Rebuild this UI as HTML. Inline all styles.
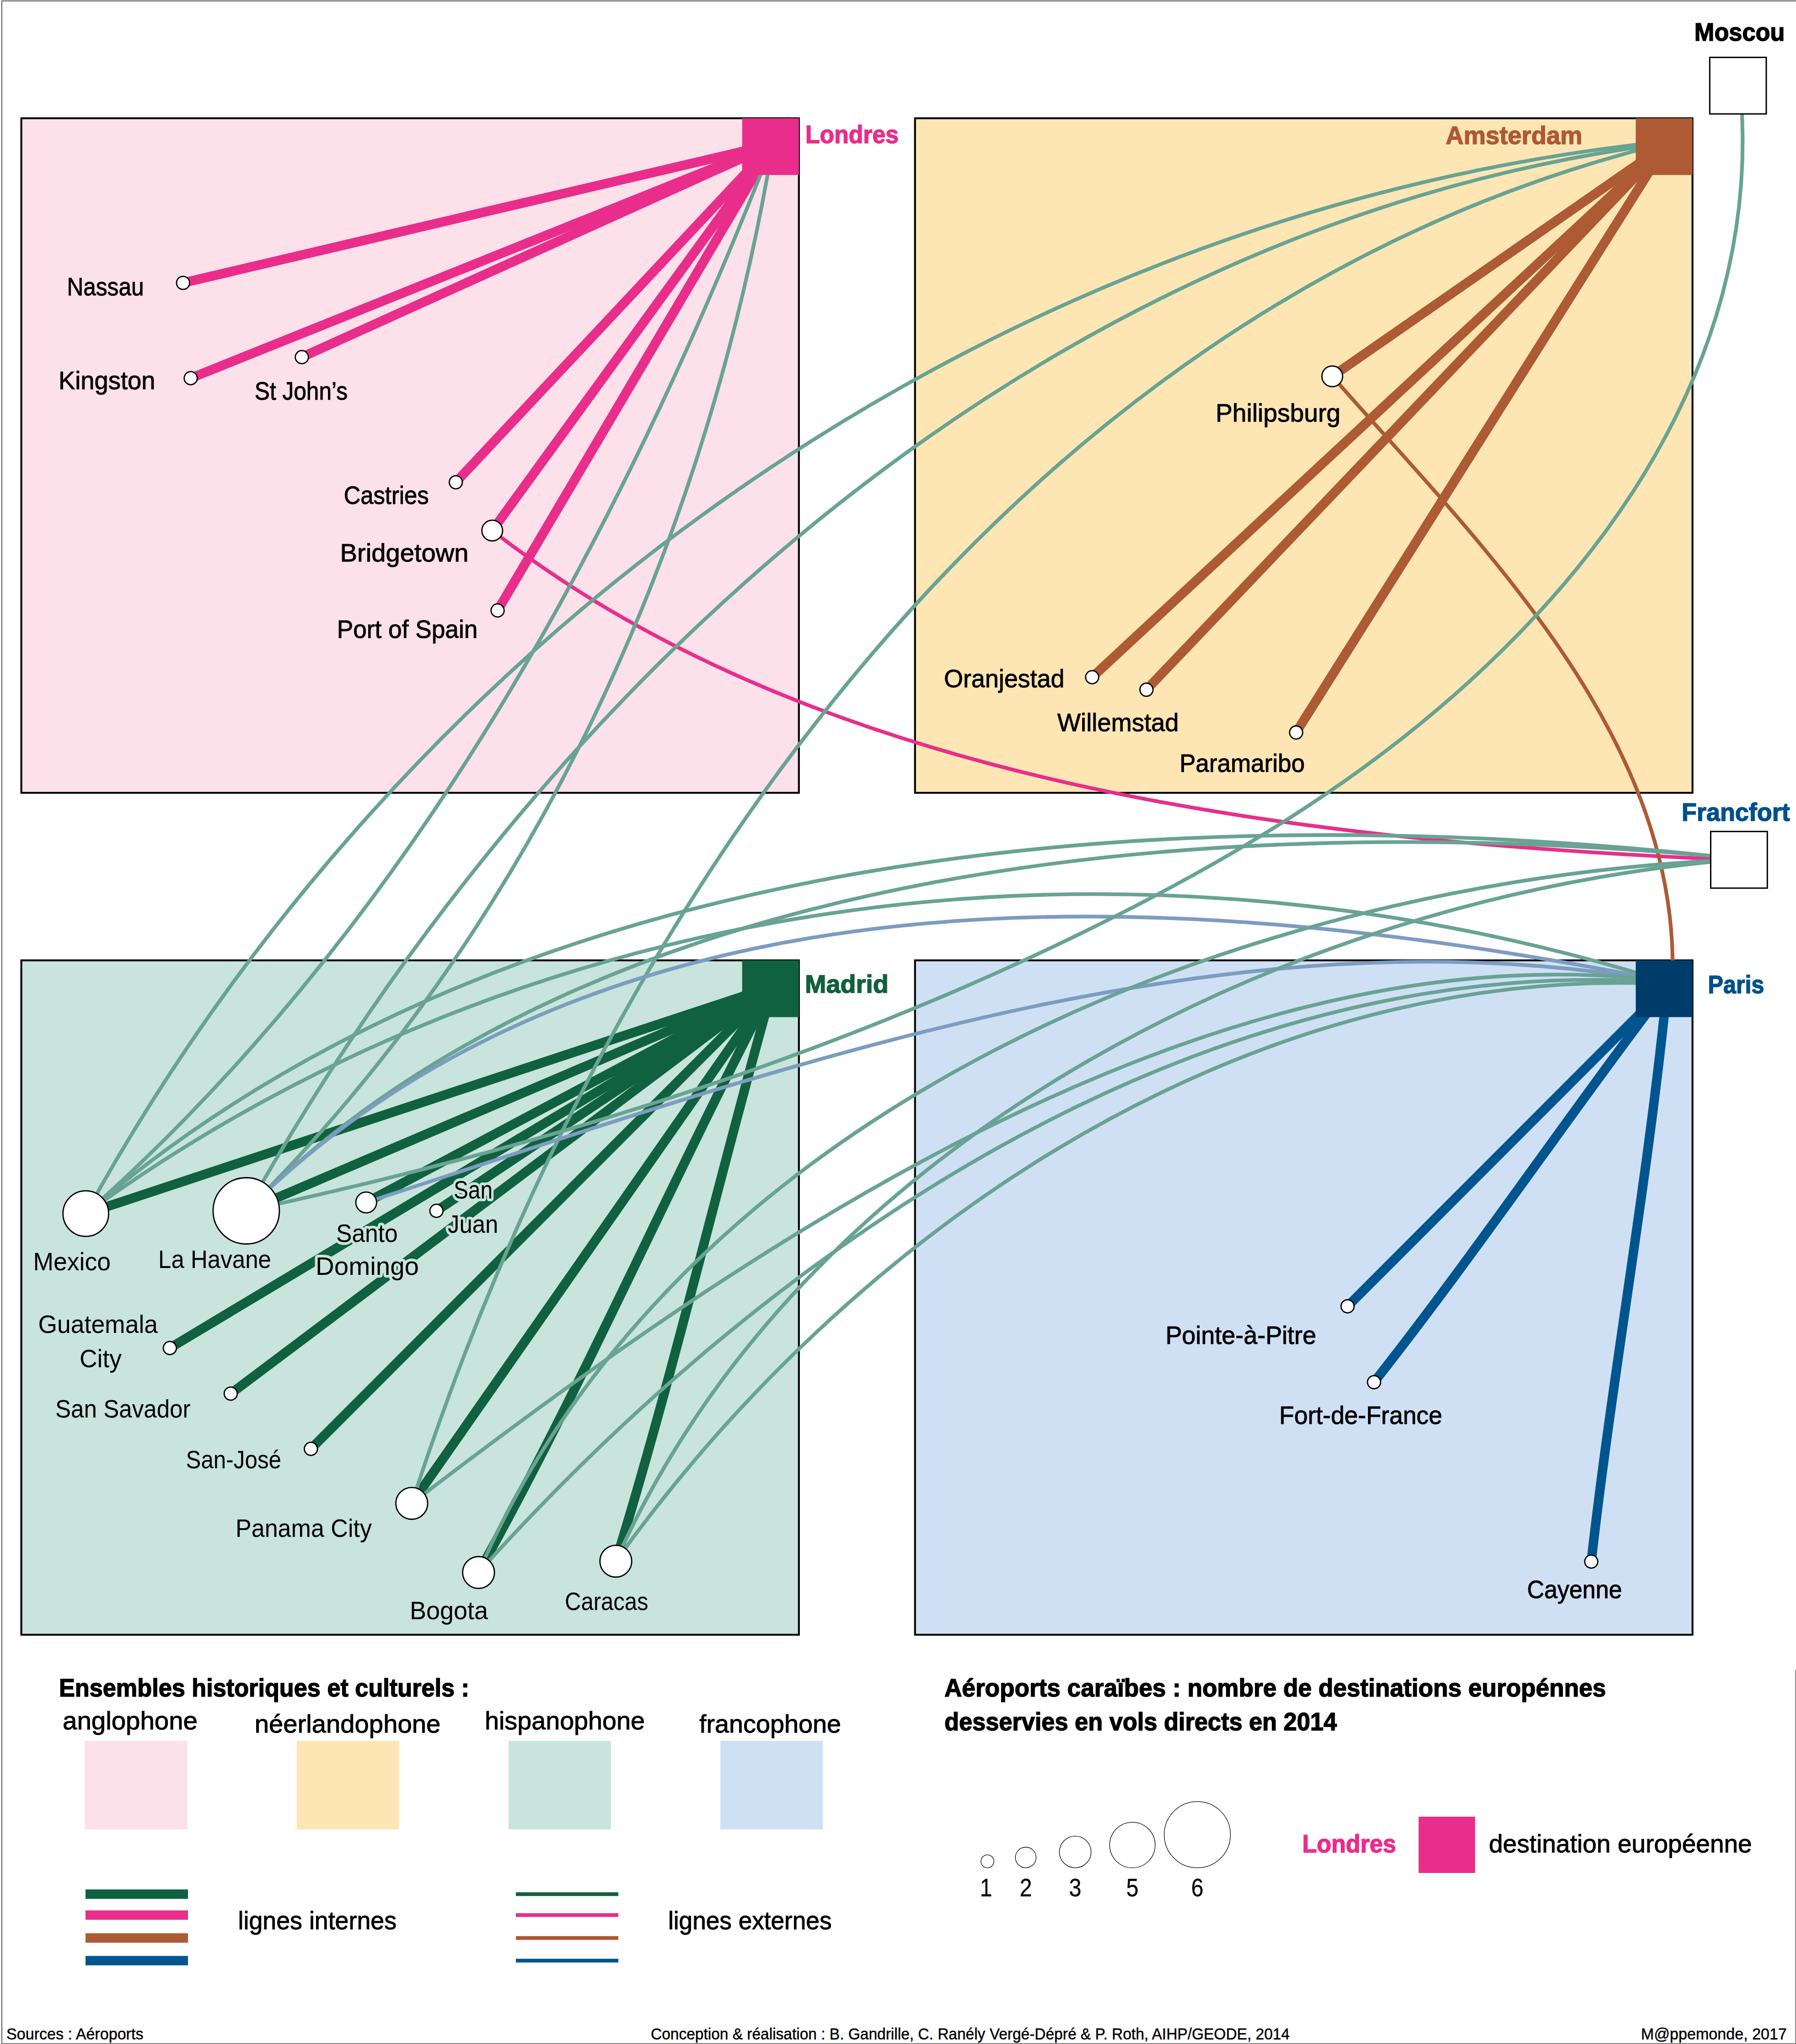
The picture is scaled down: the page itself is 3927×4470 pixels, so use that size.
<!DOCTYPE html>
<html lang="fr"><head><meta charset="utf-8"><title>Caraïbes – Europe : liaisons aériennes directes 2014</title>
<style>html,body{margin:0;padding:0;background:#fff}svg{display:block}text{font-family:"Liberation Sans",sans-serif}.r{font-size:56.0px}.b{font-size:56.0px;font-weight:700}.f{font-size:35.0px}.r{stroke:#000;stroke-width:1px}.f{stroke:#000;stroke-width:.5px}.n{stroke-width:.3px}.b{stroke-width:1.6px}.halo{paint-order:stroke;stroke:#c8e4dc;stroke-width:12px;stroke-linejoin:round}</style></head><body>
<svg width="3927" height="4470" viewBox="0 0 3927 4470">
<rect x="0" y="0" width="3927" height="4470" fill="#fff"/>
<path d="M3926.6 3652V4469.4H4V2H3927" fill="none" stroke="#555" stroke-width="2"/>
<rect x="46.6" y="258.6" width="1700.2" height="1475.2" fill="#fce0ea" stroke="#000" stroke-width="4.1"/>
<rect x="2000.7" y="258.6" width="1700.0" height="1475.2" fill="#fee6b4" stroke="#000" stroke-width="4.1"/>
<rect x="46.6" y="2100.2" width="1700.2" height="1474.8" fill="#c8e4dc" stroke="#000" stroke-width="4.1"/>
<rect x="2000.7" y="2100.2" width="1700.0" height="1474.8" fill="#cfe0f5" stroke="#000" stroke-width="4.1"/>
<g fill="none" stroke-width="20.6">
<path d="M400.3 618.6 L1689.8 315.6" stroke="#e82e8a"/>
<path d="M417.0 827.0 L1689.8 315.6" stroke="#e82e8a"/>
<path d="M660.0 781.0 L1689.8 315.6" stroke="#e82e8a"/>
<path d="M996.7 1054.6 L1689.8 315.6" stroke="#e82e8a"/>
<path d="M1076.3 1160.3 L1689.8 315.6" stroke="#e82e8a"/>
<path d="M1088.0 1335.0 L1689.8 315.6" stroke="#e82e8a"/>
<path d="M2913.0 823.0 L3643.7 315.6" stroke="#ad5a35"/>
<path d="M2388.0 1481.0 L3643.7 315.6" stroke="#ad5a35"/>
<path d="M2506.7 1508.3 L3643.7 315.6" stroke="#ad5a35"/>
<path d="M2834.0 1601.8 L3643.7 315.6" stroke="#ad5a35"/>
<path d="M187.6 2654.0 L1689.8 2157.2" stroke="#10613f"/>
<path d="M538.4 2648.0 L1689.8 2157.2" stroke="#10613f"/>
<path d="M800.7 2629.6 L1689.8 2157.2" stroke="#10613f"/>
<path d="M954.3 2648.0 L1689.8 2157.2" stroke="#10613f"/>
<path d="M371.4 2948.0 L1689.8 2157.2" stroke="#10613f"/>
<path d="M504.5 3047.7 L1689.8 2157.2" stroke="#10613f"/>
<path d="M679.8 3168.5 L1689.8 2157.2" stroke="#10613f"/>
<path d="M900.3 3287.7 L1689.8 2157.2" stroke="#10613f"/>
<path d="M1046.4 3438.8 C1279.5 3020.8 1468.2 2581.1 1689.8 2157.2" stroke="#10613f"/>
<path d="M1346.5 3414.2 C1474.2 2998.7 1571.7 2575.9 1689.8 2157.2" stroke="#10613f"/>
<path d="M2946.5 2856.7 L3645.2 2157.2" stroke="#00558f"/>
<path d="M3004.4 3022.7 C3227.7 2739.1 3426.5 2443.5 3645.2 2157.2" stroke="#00558f"/>
<path d="M3479.3 3415.0 C3526.9 2995.4 3604.0 2578.0 3645.2 2157.2" stroke="#00558f"/>
</g>
<g fill="none" stroke-linecap="butt">
<path d="M1076.3 1160.3 C1800.1 1722.5 2846.8 1836.3 3740.0 1878.2 L3809.9 1881.5" stroke="#e82e8a" stroke-width="8.1" stroke-linejoin="round"/>
<path d="M2913.0 823.0 C3227.9 1181.1 3649.5 1586.9 3657.3 2099.8 L3658.4 2169.8" stroke="#ad5a35" stroke-width="8.1" stroke-linejoin="round"/>
<path d="M187.6 2654.0 C878.4 1397.4 2142.4 487.5 3576.7 316.5 L3646.2 308.2" stroke="#68a393" stroke-width="8.1" stroke-linejoin="round"/>
<path d="M538.4 2648.0 C1178.4 1506.7 2241.0 521.0 3576.7 322.5 L3645.9 312.2" stroke="#68a393" stroke-width="8.1" stroke-linejoin="round"/>
<path d="M900.3 3287.7 C1318.5 1997.1 2198.4 700.0 3576.7 329.7 L3644.3 311.5" stroke="#68a393" stroke-width="8.1" stroke-linejoin="round"/>
<path d="M187.6 2654.0 C873.9 2045.8 1328.1 1224.7 1662.8 382.2 L1688.6 317.1" stroke="#68a393" stroke-width="8.1" stroke-linejoin="round"/>
<path d="M538.4 2648.0 C1150.4 2042.0 1526.4 1225.1 1678.4 382.2 L1690.8 313.3" stroke="#68a393" stroke-width="8.1" stroke-linejoin="round"/>
<path d="M187.6 2654.0 C1133.2 1837.4 2559.3 1747.5 3740.0 1871.5 L3809.6 1878.8" stroke="#68a393" stroke-width="8.1" stroke-linejoin="round"/>
<path d="M538.4 2648.0 C1325.1 1857.8 2699.2 1780.6 3740.0 1871.5 L3809.7 1877.6" stroke="#68a393" stroke-width="8.1" stroke-linejoin="round"/>
<path d="M187.6 2654.0 C1163.8 1944.2 2428.2 1788.2 3576.7 2126.8 L3643.8 2146.6" stroke="#68a393" stroke-width="8.1" stroke-linejoin="round"/>
<path d="M538.4 2648.0 C1330.0 1863.1 2567.9 1940.5 3576.7 2132.9 L3645.5 2146.0" stroke="#7c9cc0" stroke-width="8.1" stroke-linejoin="round"/>
<path d="M800.7 2629.6 C1677.7 2343.8 2639.1 1991.3 3576.7 2137.3 L3645.9 2148.1" stroke="#7c9cc0" stroke-width="8.1" stroke-linejoin="round"/>
<path d="M538.4 2648.0 L586.3 2637.6 L634.1 2626.9 L681.9 2616.0 L729.6 2604.9 L777.3 2593.6 L825.0 2582.1 L872.6 2570.3 L920.1 2558.3 L967.6 2546.0 L1015.1 2533.5 L1062.5 2520.8 L1109.8 2507.8 L1157.0 2494.6 L1204.2 2481.1 L1251.2 2467.3 L1298.2 2453.3 L1345.2 2439.0 L1392.0 2424.4 L1438.7 2409.5 L1485.4 2394.4 L1531.9 2379.0 L1578.3 2363.3 L1624.7 2347.3 L1670.9 2331.0 L1717.0 2314.4 L1763.0 2297.5 L1808.8 2280.3 L1854.6 2262.8 L1900.2 2244.9 L1945.7 2226.8 L1991.0 2208.3 L2036.2 2189.5 L2081.3 2170.4 L2126.2 2150.9 L2171.0 2131.1 L2215.6 2111.0 L2260.1 2090.5 L2304.4 2069.7 L2348.5 2048.5 L2392.5 2026.9 L2436.3 2005.0 L2479.9 1982.8 L2523.4 1960.1 L2566.6 1937.0 L2609.6 1913.5 L2652.3 1889.5 L2694.8 1865.0 L2737.1 1840.0 L2779.0 1814.4 L2820.6 1788.2 L2861.9 1761.4 L2902.8 1733.9 L2943.3 1705.8 L2983.5 1677.0 L3023.2 1647.4 L3062.6 1617.2 L3101.4 1586.1 L3139.7 1554.4 L3177.4 1522.0 L3214.5 1488.8 L3250.9 1454.9 L3286.6 1420.4 L3321.6 1385.1 L3355.7 1349.2 L3389.0 1312.6 L3421.4 1275.3 L3452.8 1237.4 L3483.2 1198.8 L3512.6 1159.6 L3540.8 1119.7 L3568.0 1079.3 L3594.0 1038.1 L3618.7 996.4 L3642.1 954.1 L3664.3 911.1 L3685.0 867.6 L3704.4 823.5 L3722.3 778.8 L3738.6 733.5 L3753.5 687.7 L3766.7 641.3 L3778.2 594.3 L3788.1 546.8 L3796.2 498.8 L3802.6 450.2 L3807.1 401.1 L3809.7 351.5 L3810.4 301.4 L3809.1 250.8 L3808.7 180.8" stroke="#68a393" stroke-width="8.1" stroke-linejoin="round"/>
<path d="M1046.4 3438.8 C1488.9 2417.8 2699.3 1941.1 3740.0 1882.6 L3809.9 1878.7" stroke="#68a393" stroke-width="8.1" stroke-linejoin="round"/>
<path d="M1346.5 3414.2 C1754.2 2502.4 2787.2 1981.4 3740.0 1884.9 L3809.6 1877.8" stroke="#68a393" stroke-width="8.1" stroke-linejoin="round"/>
<path d="M900.3 3287.7 C1645.7 2716.1 2611.6 2053.7 3576.7 2138.6 L3646.4 2144.7" stroke="#68a393" stroke-width="8.1" stroke-linejoin="round"/>
<path d="M1046.4 3438.8 C1682.0 2730.5 2592.7 2103.3 3576.7 2144.7 L3646.6 2147.6" stroke="#68a393" stroke-width="8.1" stroke-linejoin="round"/>
<path d="M1346.5 3414.2 C1855.0 2704.5 2679.4 2134.7 3576.7 2149.8 L3646.7 2151.0" stroke="#68a393" stroke-width="8.1" stroke-linejoin="round"/>
</g>
<rect x="1622.8" y="258.6" width="124.1" height="124.1" fill="#e82e8a"/>
<rect x="3576.6" y="258.6" width="124.1" height="124.1" fill="#ad5a35"/>
<rect x="1622.8" y="2100.2" width="124.1" height="124.1" fill="#10613f"/>
<rect x="3576.6" y="2100.2" width="124.1" height="124.1" fill="#003c69"/>
<rect x="3738.4" y="125.5" width="123.6" height="123.6" fill="#fff" stroke="#000" stroke-width="3"/>
<rect x="3740.5" y="1818.4" width="123.8" height="123.8" fill="#fff" stroke="#000" stroke-width="3"/>
<g fill="#fff" stroke="#000" stroke-width="2.8">
<circle cx="400.3" cy="618.6" r="14.3"/>
<circle cx="417.0" cy="827.0" r="14.3"/>
<circle cx="660.0" cy="781.0" r="14.3"/>
<circle cx="996.7" cy="1054.6" r="14.3"/>
<circle cx="1076.3" cy="1160.3" r="22.7"/>
<circle cx="1088.0" cy="1335.0" r="14.3"/>
<circle cx="2913.0" cy="823.0" r="22.7"/>
<circle cx="2388.0" cy="1481.0" r="14.3"/>
<circle cx="2506.7" cy="1508.3" r="14.3"/>
<circle cx="2834.0" cy="1601.8" r="14.3"/>
<circle cx="187.6" cy="2654.0" r="49.9"/>
<circle cx="538.4" cy="2648.0" r="72.5"/>
<circle cx="800.7" cy="2629.6" r="22.7"/>
<circle cx="954.3" cy="2648.0" r="14.3"/>
<circle cx="371.4" cy="2948.0" r="14.3"/>
<circle cx="504.5" cy="3047.7" r="14.3"/>
<circle cx="679.8" cy="3168.5" r="14.3"/>
<circle cx="900.3" cy="3287.7" r="34.8"/>
<circle cx="1046.4" cy="3438.8" r="34.8"/>
<circle cx="1346.5" cy="3414.2" r="34.8"/>
<circle cx="2946.5" cy="2856.7" r="14.3"/>
<circle cx="3004.4" cy="3022.7" r="14.3"/>
<circle cx="3479.3" cy="3415.0" r="14.3"/>
</g>
<rect x="185.4" y="3807" width="224.4" height="193.7" fill="#fce0ea"/>
<rect x="648.7" y="3807" width="223.8" height="193.7" fill="#fee6b4"/>
<rect x="1112.0" y="3807" width="223.7" height="193.7" fill="#c8e4dc"/>
<rect x="1575.0" y="3807" width="224.5" height="193.7" fill="#cfe0f5"/>
<rect x="187" y="4132.0" width="224" height="20.6" fill="#10613f"/>
<rect x="1128" y="4138.2" width="224" height="8.2" fill="#10613f"/>
<rect x="187" y="4177.8" width="224" height="20.6" fill="#e82e8a"/>
<rect x="1128" y="4184.0" width="224" height="8.2" fill="#e82e8a"/>
<rect x="187" y="4227.9" width="224" height="20.6" fill="#ad5a35"/>
<rect x="1128" y="4234.1" width="224" height="8.2" fill="#ad5a35"/>
<rect x="187" y="4277.4" width="224" height="20.6" fill="#00558f"/>
<rect x="1128" y="4283.6" width="224" height="8.2" fill="#00558f"/>
<rect x="3101.8" y="3972.9" width="123.6" height="123.1" fill="#e82e8a"/>
<g fill="none" stroke="#000" stroke-width="1.3">
<circle cx="2159.0" cy="4070.5" r="14.2"/>
<circle cx="2242.8" cy="4062.1" r="22.6"/>
<circle cx="2351.0" cy="4050.0" r="34.7"/>
<circle cx="2476.0" cy="4034.9" r="49.8"/>
<circle cx="2618.0" cy="4012.3" r="72.4"/>
</g>
<text x="146.4" y="645.9" class="r" fill="#000" textLength="168.2" lengthAdjust="spacingAndGlyphs">Nassau</text>
<text x="128.0" y="850.8" class="r" fill="#000" textLength="211.6" lengthAdjust="spacingAndGlyphs">Kingston</text>
<text x="556.8" y="874.0" class="r" fill="#000" textLength="203.2" lengthAdjust="spacingAndGlyphs">St John’s</text>
<text x="751.7" y="1102.0" class="r" fill="#000" textLength="186.0" lengthAdjust="spacingAndGlyphs">Castries</text>
<text x="743.6" y="1227.5" class="r" fill="#000" textLength="281.0" lengthAdjust="spacingAndGlyphs">Bridgetown</text>
<text x="736.8" y="1395.0" class="r" fill="#000" textLength="307.5" lengthAdjust="spacingAndGlyphs">Port of Spain</text>
<text x="2658.0" y="921.5" class="r" fill="#000" textLength="273.0" lengthAdjust="spacingAndGlyphs">Philipsburg</text>
<text x="2064.0" y="1502.7" class="r" fill="#000" textLength="263.4" lengthAdjust="spacingAndGlyphs">Oranjestad</text>
<text x="2311.8" y="1599.0" class="r" fill="#000" textLength="265.6" lengthAdjust="spacingAndGlyphs">Willemstad</text>
<text x="2579.0" y="1688.0" class="r" fill="#000" textLength="274.0" lengthAdjust="spacingAndGlyphs">Paramaribo</text>
<text x="72.4" y="2778.0" class="r halo" fill="#000" textLength="169.6" lengthAdjust="spacingAndGlyphs">Mexico</text>
<text x="346.0" y="2773.0" class="r halo" fill="#000" textLength="247.0" lengthAdjust="spacingAndGlyphs">La Havane</text>
<text x="735.0" y="2716.0" class="r halo" fill="#000" textLength="134.7" lengthAdjust="spacingAndGlyphs">Santo</text>
<text x="690.0" y="2788.0" class="r halo" fill="#000" textLength="226.0" lengthAdjust="spacingAndGlyphs">Domingo</text>
<text x="992.0" y="2621.4" class="r halo" fill="#000" textLength="85.0" lengthAdjust="spacingAndGlyphs">San</text>
<text x="979.0" y="2696.0" class="r halo" fill="#000" textLength="110.4" lengthAdjust="spacingAndGlyphs">Juan</text>
<text x="83.5" y="2915.0" class="r halo" fill="#000" textLength="261.5" lengthAdjust="spacingAndGlyphs">Guatemala</text>
<text x="174.0" y="2990.0" class="r halo" fill="#000" textLength="92.0" lengthAdjust="spacingAndGlyphs">City</text>
<text x="121.0" y="3100.0" class="r halo" fill="#000" textLength="295.5" lengthAdjust="spacingAndGlyphs">San Savador</text>
<text x="406.5" y="3211.0" class="r halo" fill="#000" textLength="208.5" lengthAdjust="spacingAndGlyphs">San-José</text>
<text x="515.0" y="3360.6" class="r halo" fill="#000" textLength="298.0" lengthAdjust="spacingAndGlyphs">Panama City</text>
<text x="896.0" y="3540.8" class="r halo" fill="#000" textLength="171.0" lengthAdjust="spacingAndGlyphs">Bogota</text>
<text x="1235.0" y="3521.0" class="r halo" fill="#000" textLength="182.6" lengthAdjust="spacingAndGlyphs">Caracas</text>
<text x="2548.4" y="2938.6" class="r" fill="#000" textLength="329.6" lengthAdjust="spacingAndGlyphs">Pointe-à-Pitre</text>
<text x="2797.0" y="3114.0" class="r" fill="#000" textLength="356.6" lengthAdjust="spacingAndGlyphs">Fort-de-France</text>
<text x="3339.0" y="3494.6" class="r" fill="#000" textLength="207.7" lengthAdjust="spacingAndGlyphs">Cayenne</text>
<text x="1761.0" y="313.0" class="b" fill="#e82e8a" stroke="#e82e8a" textLength="204.0" lengthAdjust="spacingAndGlyphs">Londres</text>
<text x="3160.9" y="315.0" class="b" fill="#ad5a35" stroke="#ad5a35" textLength="299.0" lengthAdjust="spacingAndGlyphs">Amsterdam</text>
<text x="3704.8" y="89.0" class="b" fill="#000" stroke="#000" textLength="197.7" lengthAdjust="spacingAndGlyphs">Moscou</text>
<text x="3677.0" y="1795.0" class="b" fill="#00508c" stroke="#00508c" textLength="236.6" lengthAdjust="spacingAndGlyphs">Francfort</text>
<text x="1760.0" y="2170.8" class="b" fill="#10613f" stroke="#10613f" textLength="182.7" lengthAdjust="spacingAndGlyphs">Madrid</text>
<text x="3734.4" y="2172.0" class="b" fill="#00508c" stroke="#00508c" textLength="123.0" lengthAdjust="spacingAndGlyphs">Paris</text>
<text x="129.0" y="3709.5" class="b" fill="#000" stroke="#000" textLength="897.0" lengthAdjust="spacingAndGlyphs">Ensembles historiques et culturels :</text>
<text x="137.0" y="3782.0" class="r" fill="#000" textLength="295.0" lengthAdjust="spacingAndGlyphs">anglophone</text>
<text x="556.8" y="3788.6" class="r" fill="#000" textLength="406.4" lengthAdjust="spacingAndGlyphs">néerlandophone</text>
<text x="1060.0" y="3782.0" class="r" fill="#000" textLength="350.0" lengthAdjust="spacingAndGlyphs">hispanophone</text>
<text x="1529.0" y="3788.6" class="r" fill="#000" textLength="310.0" lengthAdjust="spacingAndGlyphs">francophone</text>
<text x="520.6" y="4219.0" class="r" fill="#000" textLength="346.4" lengthAdjust="spacingAndGlyphs">lignes internes</text>
<text x="1461.0" y="4219.0" class="r" fill="#000" textLength="357.5" lengthAdjust="spacingAndGlyphs">lignes externes</text>
<text x="2065.0" y="3709.5" class="b" fill="#000" stroke="#000" textLength="1446.6" lengthAdjust="spacingAndGlyphs">Aéroports caraïbes : nombre de destinations europénnes</text>
<text x="2065.0" y="3784.0" class="b" fill="#000" stroke="#000" textLength="858.0" lengthAdjust="spacingAndGlyphs">desservies en vols directs en 2014</text>
<text x="2847.4" y="4051.0" class="b" fill="#e82e8a" stroke="#e82e8a" textLength="205.4" lengthAdjust="spacingAndGlyphs">Londres</text>
<text x="3255.5" y="4051.4" class="r" fill="#000" textLength="575.2" lengthAdjust="spacingAndGlyphs">destination européenne</text>
<text x="14.0" y="4459.5" class="f" fill="#000" textLength="299.5" lengthAdjust="spacingAndGlyphs">Sources : Aéroports</text>
<text x="1423.0" y="4459.5" class="f" fill="#000" textLength="1397.0" lengthAdjust="spacingAndGlyphs">Conception &amp; réalisation : B. Gandrille, C. Ranély Vergé-Dépré &amp; P. Roth, AIHP/GEODE, 2014</text>
<text x="3588.0" y="4459.5" class="f" fill="#000" textLength="319.0" lengthAdjust="spacingAndGlyphs">M@ppemonde, 2017</text>
<text x="2142.5" y="4146.6" class="r n" textLength="27" lengthAdjust="spacingAndGlyphs">1</text>
<text x="2229.5" y="4146.6" class="r n" textLength="27" lengthAdjust="spacingAndGlyphs">2</text>
<text x="2337.5" y="4146.6" class="r n" textLength="27" lengthAdjust="spacingAndGlyphs">3</text>
<text x="2462.5" y="4146.6" class="r n" textLength="27" lengthAdjust="spacingAndGlyphs">5</text>
<text x="2604.5" y="4146.6" class="r n" textLength="27" lengthAdjust="spacingAndGlyphs">6</text>
</svg></body></html>
